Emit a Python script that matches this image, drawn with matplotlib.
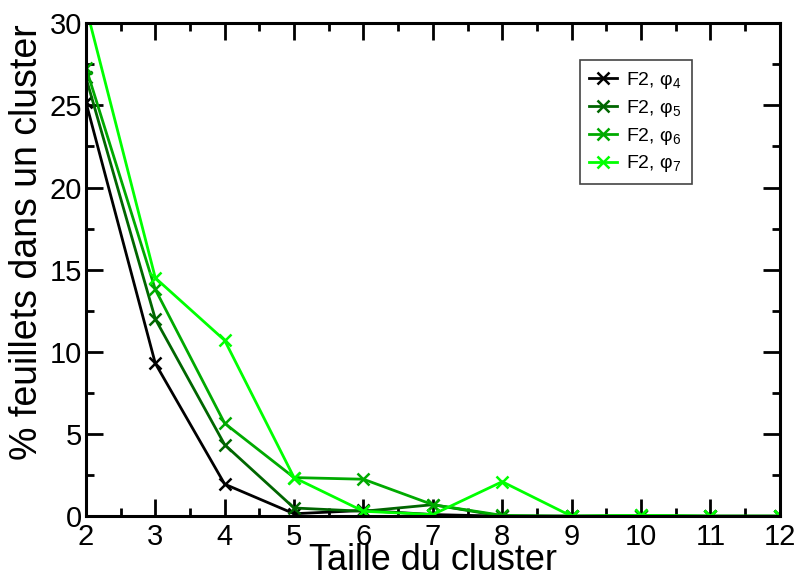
import numpy as np
from matplotlib import pyplot as plt
from matplotlib.ticker import MultipleLocator

plt.rcParams["font.family"] = ["Liberation Sans", "DejaVu Sans"]
plt.rcParams["mathtext.default"] = "regular"

taille = [2, 3, 4, 5, 6, 7, 8, 9, 10, 11, 12]

phi4 = [25.2, 9.3, 1.95, 0.15, 0.35, 0.1, 0.0, 0.0, 0.0, 0.0, 0.0]
phi5 = [26.7, 12.0, 4.35, 0.5, 0.3, 0.7, 0.0, 0.0, 0.0, 0.0, 0.0]
phi6 = [27.3, 13.8, 5.65, 2.35, 2.25, 0.7, 0.05, 0.0, 0.05, 0.0, 0.0]
phi7 = [31.0, 14.5, 10.7, 2.35, 0.3, 0.1, 2.1, 0.0, 0.05, 0.0, 0.0]

series = [
    (phi4, "black", "F2, φ$_4$"),
    (phi5, "#006600", "F2, φ$_5$"),
    (phi6, "#00aa00", "F2, φ$_6$"),
    (phi7, "#00ff00", "F2, φ$_7$"),
]

fig = plt.figure(figsize=(8.03, 5.80), dpi=100)
ax = fig.add_axes([0.107, 0.110, 0.864, 0.850])

for vals, col, lab in series:
    ax.plot(taille, vals, color=col, lw=2, marker="x", ms=8, mew=1.8, label=lab)

ax.set_xlim(2, 12)
ax.set_ylim(0, 30)
ax.xaxis.set_major_locator(MultipleLocator(1))
ax.xaxis.set_minor_locator(MultipleLocator(0.5))
ax.yaxis.set_major_locator(MultipleLocator(5))
ax.yaxis.set_minor_locator(MultipleLocator(2.5))
ax.tick_params(which="both", direction="in", top=True, right=True, width=2)
ax.tick_params(which="major", length=12, labelsize=21)
ax.tick_params(axis="x", which="major", pad=5)
ax.tick_params(axis="y", which="major", pad=3)
ax.tick_params(which="minor", length=6)
for s in ax.spines.values():
    s.set_linewidth(2.2)

ax.set_xlabel("Taille du cluster", fontsize=26, labelpad=-6)
ax.set_ylabel("% feuillets dans un cluster", fontsize=27)
ax.yaxis.set_label_coords(-0.059, 0.556)

leg = ax.legend(loc="upper right", bbox_to_anchor=(0.873, 0.925), fontsize=14,
                fancybox=False, framealpha=1, edgecolor="#444444",
                handlelength=1.4, labelspacing=0.35, borderpad=0.5,
                handletextpad=0.5, borderaxespad=0)
leg.get_frame().set_linewidth(1.2)

fig.savefig("out.png", dpi=100)
